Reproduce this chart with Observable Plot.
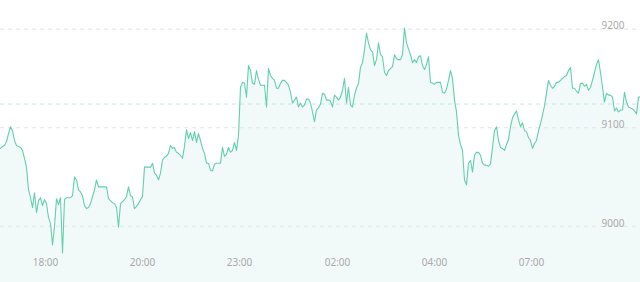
<!DOCTYPE html>
<html>
<head>
<meta charset="utf-8">
<script src="https://cdn.jsdelivr.net/npm/d3@7"></script>
<script src="https://cdn.jsdelivr.net/npm/@observablehq/plot@0.6"></script>
<style>
  html, body { margin: 0; padding: 0; background: #fff; }
  #chart svg { display: block; }
</style>
</head>
<body>
<div id="chart"></div>
<script>
// Price series, one value per time slot (category index)
const prices = [
  9079,9081,9082,9086,9094,9101,9097,9087,9082,9081,
  9080,9077,9069,9060,9037,9029,9019,9034,9014,9026,
  9029,9021,9027,9023,9009,9003,8981,9000,9028,9022,
  9029,8973,9027,9029,9029,9029,9031,9050,9047,9037,
  9035,9031,9021,9018,9019,9023,9030,9037,9047,9040,
  9040,9040,9040,9040,9028,9026,9024,9023,9019,8999,
  9023,9025,9027,9030,9040,9031,9030,9018,9020,9023,
  9027,9030,9060,9060,9060,9060,9064,9054,9052,9047,
  9054,9067,9070,9071,9074,9082,9079,9080,9075,9074,
  9072,9069,9081,9098,9089,9095,9087,9096,9085,9094,
  9087,9079,9074,9064,9064,9057,9056,9063,9064,9064,
  9064,9080,9071,9073,9080,9075,9077,9085,9077,9092,
  9141,9146,9145,9131,9163,9158,9145,9144,9158,9149,
  9143,9143,9143,9121,9160,9153,9150,9148,9140,9140,
  9145,9148,9148,9146,9143,9136,9125,9128,9131,9121,
  9125,9121,9123,9129,9129,9125,9116,9106,9118,9120,
  9124,9135,9134,9128,9128,9127,9121,9133,9131,9128,
  9131,9138,9150,9125,9141,9123,9121,9133,9140,9145,
  9161,9166,9179,9196,9186,9179,9177,9163,9169,9186,
  9174,9172,9156,9153,9158,9160,9162,9174,9170,9169,
  9169,9174,9201,9186,9180,9174,9166,9169,9166,9172,
  9173,9163,9159,9164,9172,9146,9145,9144,9146,9146,
  9146,9136,9135,9139,9148,9158,9150,9128,9116,9092,
  9083,9077,9047,9042,9064,9067,9055,9072,9075,9075,
  9072,9064,9062,9062,9061,9063,9080,9097,9101,9087,
  9080,9079,9077,9083,9088,9101,9110,9114,9117,9108,
  9101,9105,9097,9096,9090,9087,9079,9084,9087,9097,
  9104,9113,9122,9135,9148,9143,9140,9142,9146,9146,
  9148,9150,9152,9153,9158,9161,9140,9140,9137,9135,
  9145,9145,9142,9144,9138,9141,9148,9156,9164,9169,
  9156,9141,9126,9135,9133,9133,9131,9117,9120,9116,
  9118,9118,9136,9126,9121,9120,9119,9117,9114,9131,
  9131
];

// Axis content
const yTicks = [9000, 9100, 9200];
const xLabels = ["18:00", "20:00", "23:00", "02:00", "04:00", "07:00"];
const xLabelSlots = [22.5, 71, 119.5, 168.5, 217, 265.5];
const refPrice = 9124;           // dashed reference line
const yDomain = [8943, 9229];

const data = prices.map((p, i) => ({slot: i, price: p}));
const labels = xLabels.map((t, i) => ({slot: xLabelSlots[i], text: t}));

const lineColor = "#62d0a8";
const chart = Plot.plot({
  width: 640,
  height: 282,
  margin: 0,
  x: {domain: [0, prices.length - 1], axis: null},
  y: {domain: yDomain, axis: null},
  style: {fontFamily: "'Noto Sans', sans-serif", fontSize: "10px", background: "#fff"},
  marks: [
    Plot.areaY(data, {x: "slot", y1: yDomain[0], y2: "price", fill: "#f2f9f9"}),
    Plot.ruleY(yTicks, {stroke: "#e4e4e4", strokeDasharray: "4,4"}),
    Plot.ruleY([refPrice], {stroke: "#c4eadd", strokeDasharray: "4,4"}),
    Plot.lineY(data, {x: "slot", y: "price", stroke: lineColor, strokeWidth: 1.1}),
    Plot.text(yTicks, {y: d => d, text: d => String(d), frameAnchor: "right", textAnchor: "end", dx: -16, dy: -3, fill: "#aaaaaa"}),
    Plot.text(labels, {x: "slot", text: "text", frameAnchor: "bottom", dy: -17, fill: "#aaaaaa"})
  ]
});
document.getElementById("chart").appendChild(chart);
</script>
</body>
</html>
